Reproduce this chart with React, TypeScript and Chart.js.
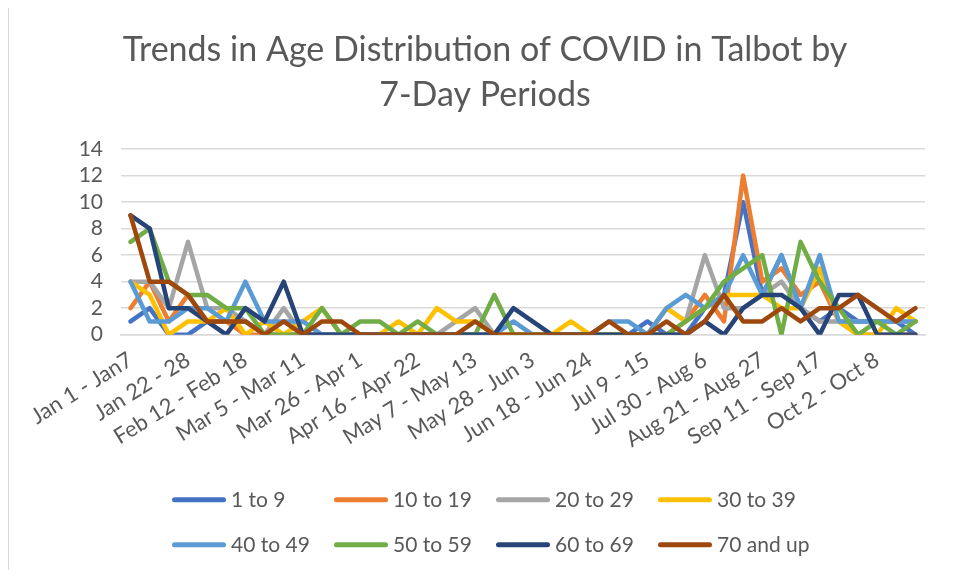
import React, { useEffect, useRef } from "react";
import { Chart, registerables } from "chart.js";

Chart.register(...registerables);

const periods: string[] = [
  "Jan 1 - Jan7", "Jan 8 - 14", "Jan 15 - 21", "Jan 22 - 28", "Jan 29 - Feb 4", "Feb 5 - Feb 11",
  "Feb 12 - Feb 18", "Feb 19 - Feb 25", "Feb 26 - Mar 4", "Mar 5 - Mar 11", "Mar 12 - Mar 18", "Mar 19 - Mar 25",
  "Mar 26 - Apr 1", "Apr 2 - Apr 8", "Apr 9 - Apr 15", "Apr 16 - Apr 22", "Apr 23 - Apr 29", "Apr 30 - May 6",
  "May 7 - May 13", "May 14 - May 20", "May 21 - May 27", "May 28 - Jun 3", "Jun 4 - Jun 10", "Jun 11 - Jun 17",
  "Jun 18 - Jun 24", "Jun 25 - Jul 1", "Jul 2 - 8", "Jul 9 - 15", "Jul 16 - 22", "Jul 23 - 29",
  "Jul 30 - Aug 6", "Aug 7 - Aug 13", "Aug 14 - Aug 20", "Aug 21 - Aug 27", "Aug 28 - Sep 3", "Sep 4 - Sep 10",
  "Sep 11 - Sep 17", "Sep 18 - Sep 24", "Sep 25 - Oct 1", "Oct 2 - Oct 8", "Oct 9 - Oct 15", "Oct 16 - Oct 22",
];

const age1to9: number[] = [1,2,0,0,1,1,1,0,0,0, 0,0,0,0,0,0,0,0,0,0, 0,0,0,0,0,0,0,1,0,0, 2,3,10,3,6,2,1,2,1,1, 1,0];
const age10to19: number[] = [2,4,1,3,1,1,0,0,0,0, 0,0,0,0,0,0,0,0,0,0, 0,0,0,0,0,0,0,0,0,1, 3,1,12,4,5,3,4,1,0,0, 0,0];
const age20to29: number[] = [4,4,2,7,2,2,1,0,2,0, 0,0,0,0,0,0,0,1,2,0, 0,0,0,0,0,0,0,0,2,1, 6,2,2,3,4,2,1,1,1,1, 1,1];
const age30to39: number[] = [4,3,0,1,1,2,0,1,0,1, 2,0,0,0,1,0,2,1,1,0, 0,0,0,1,0,0,0,0,2,1, 2,3,3,3,2,2,5,1,0,0, 2,1];
const age40to49: number[] = [4,1,1,2,2,1,4,1,1,1, 0,0,0,0,0,0,0,0,0,0, 1,0,0,0,0,1,1,0,2,3, 2,3,6,3,6,2,6,1,1,1, 1,1];
const age50to59: number[] = [7,8,4,3,3,2,2,0,0,0, 2,0,1,1,0,1,0,0,0,3, 0,0,0,0,0,0,0,0,0,1, 2,4,5,6,0,7,4,2,0,1, 0,1];
const age60to69: number[] = [9,8,2,2,1,0,2,1,4,0, 0,0,0,0,0,0,0,0,0,0, 2,1,0,0,0,0,0,0,0,0, 1,0,2,3,3,2,0,3,3,0, 0,0];
const age70up: number[] = [9,4,4,3,1,1,1,0,1,0, 1,1,0,0,0,0,0,0,1,0, 0,0,0,0,0,1,0,0,1,0, 1,3,1,1,2,1,2,2,3,2, 1,2];

const seriesNames: string[] = ["1 to 9", "10 to 19", "20 to 29", "30 to 39", "40 to 49", "50 to 59", "60 to 69", "70 and up"];
const seriesColors: string[] = ["#4472C4", "#ED7D31", "#A5A5A5", "#FFC000", "#5B9BD5", "#70AD47", "#264478", "#9E480E"];
const seriesValues: number[][] = [age1to9, age10to19, age20to29, age30to39, age40to49, age50to59, age60to69, age70up];

const yTicks: number[] = [0, 2, 4, 6, 8, 10, 12, 14];
const titleLines: string[] = ["Trends in Age Distribution of COVID in Talbot by", "7-Day Periods"];

const TEXT = "#595959";
const FONT = "Lato";

const gridLegend = {
  id: "gridLegend",
  afterDraw(chart: any) {
    const ctx = chart.ctx;
    const ds = chart.data.datasets;
    const x0 = 165.5, colW = 162, y0 = 491.7, rowH = 45;
    ctx.save();
    ctx.font = `21px ${FONT}`;
    ctx.fillStyle = TEXT;
    ctx.textBaseline = "middle";
    ctx.textAlign = "left";
    ds.forEach((d: any, i: number) => {
      const col = i % 4;
      const row = Math.floor(i / 4);
      const x = x0 + col * colW;
      const y = y0 + row * rowH;
      ctx.strokeStyle = d.borderColor;
      ctx.lineWidth = 5;
      ctx.lineCap = "round";
      ctx.beginPath();
      ctx.moveTo(x, y);
      ctx.lineTo(x + 49, y);
      ctx.stroke();
      ctx.fillText(d.label, x + 56.5, y + 1);
    });
    ctx.restore();
  },
};

export default function App() {
  const ref = useRef<HTMLCanvasElement | null>(null);

  useEffect(() => {
    if (!ref.current) return;
    const n = seriesValues.length;
    const chart = new Chart(ref.current, {
      type: "line",
      data: {
        labels: periods,
        datasets: seriesValues.map((vals, i) => ({
          label: seriesNames[i],
          data: vals,
          borderColor: seriesColors[i],
          backgroundColor: seriesColors[i],
          borderWidth: 4.5,
          pointRadius: 0,
          pointHoverRadius: 0,
          tension: 0,
          fill: false,
          borderJoinStyle: "round" as const,
          borderCapStyle: "round" as const,
          order: n - i,
        })),
      },
      options: {
        animation: false,
        responsive: true,
        maintainAspectRatio: false,
        layout: { padding: { left: 36, right: 24, top: 0, bottom: 105 } },
        plugins: {
          legend: { display: false },
          tooltip: { enabled: false },
          title: {
            display: true,
            text: titleLines,
            color: TEXT,
            font: { family: FONT, size: 34, weight: "normal", lineHeight: 1.34 },
            padding: { top: 19, bottom: 31 },
          },
        },
        scales: {
          x: {
            type: "category",
            offset: true,
            grid: { display: false, drawTicks: false },
            border: { display: true, color: "#d9d9d9", width: 1.5 },
            ticks: {
              autoSkip: false,
              minRotation: 32,
              maxRotation: 32,
              padding: 12,
              color: TEXT,
              font: { family: FONT, size: 22 },
              callback: (_v: any, idx: number) => (idx % 3 === 0 ? periods[idx] : ""),
            },
          },
          y: {
            min: yTicks[0],
            max: yTicks[yTicks.length - 1],
            grid: { color: "#d9d9d9", lineWidth: 1.5, drawTicks: false },
            border: { display: false },
            afterFit: (axis: any) => {
              axis.width = 76;
            },
            ticks: {
              stepSize: yTicks[1] - yTicks[0],
              autoSkip: false,
              padding: 18,
              color: TEXT,
              font: { family: FONT, size: 21 },
            },
          },
        },
      },
      plugins: [gridLegend],
    });
    return () => chart.destroy();
  }, []);

  return (
    <div style={{ width: 941, height: 562, position: "relative", borderLeft: "1px solid #d9d9d9", boxSizing: "border-box" }}>
      <canvas ref={ref} />
    </div>
  );
}
